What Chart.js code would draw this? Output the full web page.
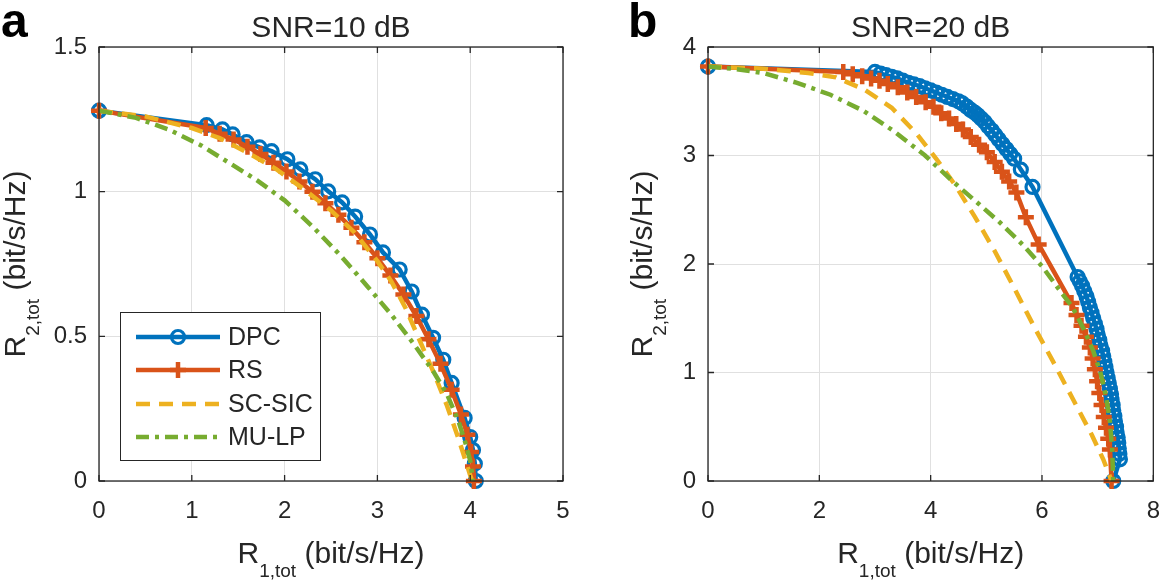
<!DOCTYPE html>
<html>
<head>
<meta charset="utf-8">
<script src="https://cdn.jsdelivr.net/npm/chart.js@4.4.0/dist/chart.umd.min.js"></script>
<style>
  body { margin: 0; background: #fff; }
  #wrap { position: relative; width: 1176px; height: 581px; }
  canvas { position: absolute; top: 0; }
</style>
</head>
<body>
<div id="wrap">
  <canvas id="chartA" width="588" height="581" style="left:0"></canvas>
  <canvas id="chartB" width="588" height="581" style="left:588px"></canvas>
</div>
<script>
// ---- panel a : SNR = 10 dB ----
const aDpcX = [0, 1.16, 1.33, 1.44, 1.59, 1.73, 1.86, 2.03, 2.17, 2.33, 2.47, 2.62, 2.76, 2.92, 3.06, 3.24, 3.37, 3.48, 3.60, 3.71, 3.80, 3.94, 4.00, 4.03, 4.05, 4.06];
const aDpcY = [1.28, 1.23, 1.215, 1.198, 1.171, 1.153, 1.14, 1.112, 1.077, 1.043, 1.001, 0.963, 0.914, 0.852, 0.79, 0.731, 0.655, 0.575, 0.495, 0.419, 0.339, 0.218, 0.152, 0.107, 0.06, 0];
const aRsX = [0, 1.15, 1.3, 1.45, 1.6, 1.74, 1.88, 2.02, 2.16, 2.3, 2.44, 2.58, 2.72, 2.86, 3.0, 3.14, 3.28, 3.42, 3.55, 3.68, 3.8, 3.9, 3.97, 4.01, 4.03, 4.04];
const aRsY = [1.28, 1.22, 1.2, 1.18, 1.155, 1.13, 1.1, 1.07, 1.035, 1.0, 0.96, 0.92, 0.875, 0.825, 0.77, 0.71, 0.645, 0.57, 0.49, 0.405, 0.315, 0.23, 0.16, 0.1, 0.05, 0];
const aScX = [0, 0.5, 1.0, 1.3, 1.6, 1.9, 2.2, 2.5, 2.75, 3.0, 3.15, 3.3, 3.45, 3.6, 3.75, 3.87, 3.95, 4.0, 4.02];
const aScY = [1.28, 1.26, 1.22, 1.185, 1.135, 1.08, 1.01, 0.935, 0.86, 0.76, 0.69, 0.6, 0.49, 0.38, 0.26, 0.15, 0.07, 0.02, 0];
const aMuX = [0, 0.4, 0.75, 1.1, 1.4, 1.7, 2.0, 2.3, 2.6, 2.9, 3.15, 3.4, 3.6, 3.75, 3.87, 3.95, 4.0, 4.03];
const aMuY = [1.28, 1.255, 1.215, 1.16, 1.1, 1.04, 0.97, 0.88, 0.78, 0.67, 0.575, 0.47, 0.38, 0.3, 0.21, 0.13, 0.07, 0];

// ---- panel b : SNR = 20 dB ----
const bDpcX = [0, 3.0, 3.1, 3.2, 3.3, 3.4, 3.5, 3.6, 3.7, 3.8, 3.9, 4.0, 4.1, 4.2, 4.3, 4.4, 4.5, 4.57, 4.65, 4.72, 4.79, 4.85, 4.91, 4.97, 5.03, 5.1, 5.16, 5.22, 5.29, 5.36, 5.43, 5.5, 5.62, 5.83,
  6.64, 6.68, 6.72, 6.76, 6.8, 6.83, 6.86, 6.89, 6.92, 6.95, 6.98, 7.0, 7.03, 7.05, 7.08, 7.1, 7.12, 7.14, 7.16, 7.18, 7.2, 7.22, 7.24, 7.25, 7.27, 7.28, 7.3, 7.31, 7.33, 7.34, 7.36, 7.37, 7.38, 7.39, 7.4, 7.28];
const bDpcY = [3.82, 3.77, 3.755, 3.74, 3.725, 3.71, 3.69, 3.67, 3.655, 3.64, 3.62, 3.6, 3.58, 3.56, 3.54, 3.52, 3.5, 3.48, 3.45, 3.42, 3.395, 3.37, 3.34, 3.31, 3.27, 3.23, 3.19, 3.15, 3.105, 3.06, 3.015, 2.97, 2.87, 2.71,
  1.88, 1.84, 1.8, 1.75, 1.7, 1.65, 1.6, 1.55, 1.5, 1.45, 1.4, 1.35, 1.3, 1.25, 1.2, 1.15, 1.1, 1.05, 1.0, 0.95, 0.9, 0.85, 0.8, 0.75, 0.7, 0.65, 0.6, 0.55, 0.5, 0.45, 0.4, 0.35, 0.3, 0.25, 0.2, 0];
const bRsX = [0, 2.43, 2.6, 2.77, 2.93, 3.08, 3.23, 3.41, 3.58, 3.74, 3.91, 4.05, 4.19, 4.33, 4.46, 4.58, 4.72, 4.87, 5.01, 5.15, 5.28, 5.41, 5.54, 5.71, 5.94, 6.53, 6.62, 6.71, 6.79, 6.86, 6.91, 6.95, 6.99, 7.03, 7.07, 7.11, 7.15, 7.19, 7.22, 7.25];
const bRsY = [3.82, 3.77, 3.75, 3.73, 3.71, 3.69, 3.66, 3.63, 3.58, 3.54, 3.49, 3.45, 3.39, 3.34, 3.29, 3.24, 3.17, 3.10, 3.03, 2.94, 2.85, 2.76, 2.66, 2.43, 2.18, 1.64, 1.53, 1.43, 1.33, 1.23, 1.13, 1.03, 0.92, 0.81, 0.7, 0.59, 0.49, 0.39, 0.29, 0];
const bScX = [0, 1.0, 1.8, 2.3, 2.8, 3.3, 3.75, 4.1, 4.45, 4.8, 5.15, 5.5, 5.85, 6.2, 6.55, 6.9, 7.1, 7.25];
const bScY = [3.82, 3.8, 3.76, 3.72, 3.61, 3.44, 3.2, 2.97, 2.72, 2.43, 2.12, 1.78, 1.43, 1.1, 0.76, 0.42, 0.2, 0];
const bMuX = [0, 0.45, 1.0, 1.6, 2.2, 2.8, 3.35, 3.9, 4.4, 4.85, 5.25, 5.65, 6.0, 6.3, 6.55, 6.75, 6.92, 7.05, 7.15, 7.22, 7.26, 7.28];
const bMuY = [3.82, 3.8, 3.76, 3.67, 3.56, 3.41, 3.22, 3.0, 2.76, 2.56, 2.38, 2.18, 1.98, 1.77, 1.6, 1.4, 1.2, 1.0, 0.78, 0.55, 0.3, 0];

const seriesNames = ['DPC', 'RS', 'SC-SIC', 'MU-LP'];
const seriesColors = ['#0072BD', '#D95319', '#EDB120', '#77AC30'];
const FONT = '"Liberation Sans", Arial, Helvetica, sans-serif';
const INK = '#262626';

Chart.defaults.font.family = FONT;
Chart.defaults.color = INK;

function pts(xs, ys) {
  return xs.map((x, i) => ({x: x, y: ys[i]}));
}

function makeSets(dpcX, dpcY, rsX, rsY, scX, scY, muX, muY) {
  return [
    {label: seriesNames[0], data: pts(dpcX, dpcY), borderColor: seriesColors[0], borderWidth: 4.5,
     pointStyle: 'circle', pointRadius: 6.5, pointBorderWidth: 3.2, pointBackgroundColor: 'rgba(0,0,0,0)',
     pointBorderColor: seriesColors[0], order: 4},
    {label: seriesNames[1], data: pts(rsX, rsY), borderColor: seriesColors[1], borderWidth: 4.5,
     pointStyle: 'cross', pointRadius: 8, pointBorderWidth: 4.5, pointBorderColor: seriesColors[1], order: 3},
    {label: seriesNames[2], data: pts(scX, scY), borderColor: seriesColors[2], borderWidth: 4.5,
     borderDash: [14, 9], pointRadius: 0, order: 2},
    {label: seriesNames[3], data: pts(muX, muY), borderColor: seriesColors[3], borderWidth: 4.5,
     borderDash: [13, 6, 4, 6], pointRadius: 0, order: 1}
  ];
}

// text with a subscript part
function richText(ctx, parts, x, y, rotate) {
  ctx.save();
  ctx.translate(x, y);
  if (rotate) ctx.rotate(-Math.PI / 2);
  ctx.textAlign = 'left';
  ctx.textBaseline = 'alphabetic';
  ctx.fillStyle = INK;
  let w = 0;
  parts.forEach(p => { ctx.font = p.font; w += ctx.measureText(p.t).width; });
  let cx = -w / 2;
  parts.forEach(p => {
    ctx.font = p.font;
    ctx.fillText(p.t, cx, p.dy || 0);
    cx += ctx.measureText(p.t).width;
  });
  ctx.restore();
}

const decor = {
  id: 'decor',
  afterDatasetsDraw(chart, args, o) {
    const ctx = chart.ctx, a = chart.chartArea, sx = chart.scales.x, sy = chart.scales.y;
    ctx.save();
    ctx.strokeStyle = INK;
    ctx.lineWidth = 1.3;
    ctx.strokeRect(a.left, a.top, a.right - a.left, a.bottom - a.top);
    ctx.beginPath();
    const tl = 6;
    sx.ticks.forEach(t => {
      const p = sx.getPixelForValue(t.value);
      ctx.moveTo(p, a.bottom); ctx.lineTo(p, a.bottom - tl);
      ctx.moveTo(p, a.top); ctx.lineTo(p, a.top + tl);
    });
    sy.ticks.forEach(t => {
      const p = sy.getPixelForValue(t.value);
      ctx.moveTo(a.left, p); ctx.lineTo(a.left + tl, p);
      ctx.moveTo(a.right, p); ctx.lineTo(a.right - tl, p);
    });
    ctx.stroke();

    // legend box (panel a only)
    if (o.legend) {
      const L = o.legend;
      ctx.fillStyle = '#fff';
      ctx.fillRect(L.x, L.y, L.w, L.h);
      ctx.lineWidth = 1;
      ctx.strokeStyle = INK;
      ctx.strokeRect(L.x + 0.5, L.y + 0.5, L.w, L.h);
      chart.data.datasets.forEach((ds, i) => {
        const y = L.rows[i];
        ctx.save();
        ctx.strokeStyle = ds.borderColor;
        ctx.lineWidth = 4.5;
        ctx.setLineDash(ds.borderDash || []);
        ctx.beginPath();
        ctx.moveTo(L.x + 16, y); ctx.lineTo(L.x + 100, y);
        ctx.stroke();
        ctx.setLineDash([]);
        const mx = L.x + 58;
        if (ds.pointStyle === 'circle' && ds.pointRadius) {
          ctx.lineWidth = 3.2;
          ctx.beginPath(); ctx.arc(mx, y, 6.5, 0, Math.PI * 2); ctx.stroke();
        } else if (ds.pointStyle === 'cross' && ds.pointRadius) {
          ctx.lineWidth = 4.5;
          ctx.beginPath();
          ctx.moveTo(mx - 8, y); ctx.lineTo(mx + 8, y);
          ctx.moveTo(mx, y - 8); ctx.lineTo(mx, y + 8);
          ctx.stroke();
        }
        ctx.restore();
        ctx.fillStyle = INK;
        ctx.font = '25px ' + FONT;
        ctx.textBaseline = 'middle';
        ctx.textAlign = 'left';
        ctx.fillText(ds.label, L.x + 108, y + 1);
      });
    }
    ctx.restore();
  },
  afterDraw(chart, args, o) {
    const ctx = chart.ctx, a = chart.chartArea;
    const mid = (a.left + a.right) / 2;
    ctx.save();
    ctx.fillStyle = INK;
    ctx.font = '30px ' + FONT;
    ctx.textAlign = 'center';
    ctx.textBaseline = 'alphabetic';
    ctx.fillText(o.title, mid, 37);
    ctx.fillStyle = '#000';
    ctx.font = 'bold 48px ' + FONT;
    ctx.textAlign = 'left';
    ctx.fillText(o.tag, o.tagX, 37);
    ctx.restore();
    richText(ctx, [
      {t: 'R', font: '30px ' + FONT},
      {t: '1,tot', font: '19px ' + FONT, dy: 14},
      {t: ' (bit/s/Hz)', font: '30px ' + FONT}
    ], mid, 563, false);
    richText(ctx, [
      {t: 'R', font: '30px ' + FONT},
      {t: '2,tot', font: '19px ' + FONT, dy: 14},
      {t: ' (bit/s/Hz)', font: '30px ' + FONT}
    ], o.yTitleX, (a.top + a.bottom) / 2, true);
  }
};

function makeChart(id, sets, xMax, xStep, yMax, yStep, yWidth, padRight, deco) {
  return new Chart(document.getElementById(id), {
    type: 'scatter',
    data: {datasets: sets.map(s => Object.assign({showLine: true, tension: 0, clip: false, fill: false}, s))},
    options: {
      responsive: false,
      animation: false,
      layout: {padding: {top: 47, right: padRight, left: 0, bottom: 0}},
      plugins: {legend: {display: false}, tooltip: {enabled: false}, title: {display: false}, decor: deco},
      scales: {
        x: {
          type: 'linear', min: 0, max: xMax,
          ticks: {stepSize: xStep, font: {size: 24}, color: INK, padding: 16, callback: v => String(+v.toFixed(2))},
          grid: {color: '#e0e0e0', lineWidth: 1, drawTicks: false},
          border: {display: false},
          afterFit: s => { s.height = 100; }
        },
        y: {
          type: 'linear', min: 0, max: yMax,
          ticks: {stepSize: yStep, font: {size: 24}, color: INK, padding: 12, callback: v => String(+v.toFixed(2))},
          grid: {color: '#e0e0e0', lineWidth: 1, drawTicks: false},
          border: {display: false},
          afterFit: s => { s.width = yWidth; }
        }
      }
    },
    plugins: [decor]
  });
}

makeChart('chartA', makeSets(aDpcX, aDpcY, aRsX, aRsY, aScX, aScY, aMuX, aMuY), 5, 1, 1.5, 0.5, 99, 25, {
  title: 'SNR=10 dB', tag: 'a', tagX: 1, yTitleX: 25,
  legend: {x: 120, y: 312, w: 200, h: 148, rows: [337, 370, 404, 437]}
});
makeChart('chartB', makeSets(bDpcX, bDpcY, bRsX, bRsY, bScX, bScY, bMuX, bMuY), 8, 2, 4, 1, 120, 11, {
  title: 'SNR=20 dB', tag: 'b', tagX: 40, yTitleX: 64
});
</script>
</body>
</html>
